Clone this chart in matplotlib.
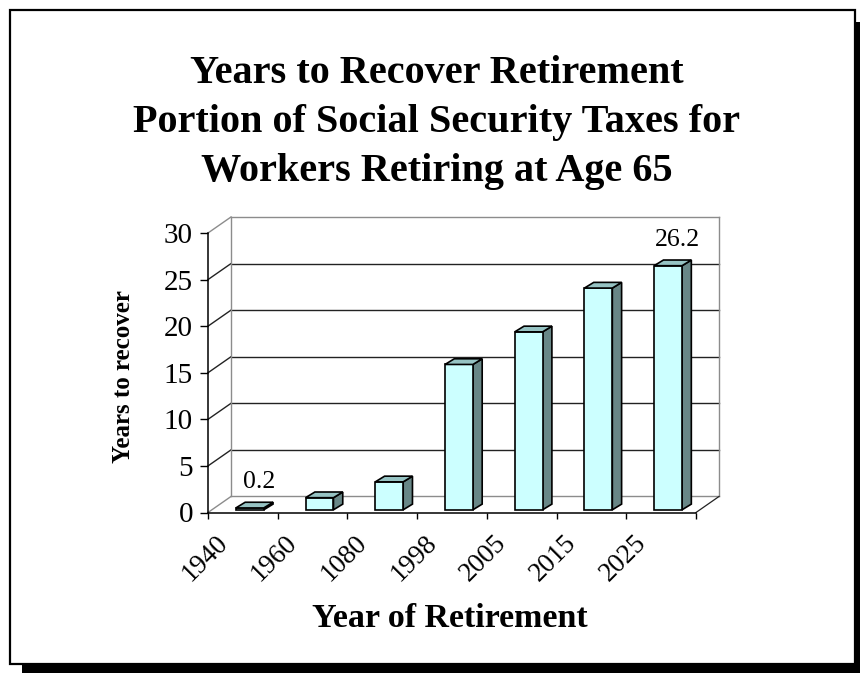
import numpy as np
import matplotlib.pyplot as plt
from matplotlib.patches import Polygon, Rectangle
from matplotlib.transforms import ScaledTranslation

# data
years = ["1940", "1960", "1080", "1998", "2005", "2015", "2025"]
recover = [0.2, 1.3, 3.0, 15.6, 19.1, 23.8, 26.2]
shown = {0: "0.2", 6: "26.2"}   # only these two bars carry a label
yticks = [0, 5, 10, 15, 20, 25, 30]

title_lines = ["Years to Recover Retirement",
               "Portion of Social Security Taxes for",
               "Workers Retiring at Age 65"]

W, H = 860, 673
serif = "Liberation Serif"
front_c, top_c, side_c = "#CCFFFF", "#96C3C3", "#688787"

fig = plt.figure(figsize=(W / 100, H / 100), dpi=100, facecolor="white")

# frame with drop shadow
fig.add_artist(Rectangle((22 / W, 0), 1, 1 - 22 / H, transform=fig.transFigure,
                         facecolor="black", edgecolor="none", zorder=-3))
fig.add_artist(Rectangle((10 / W, 1 - 664 / H), 845 / W, 654 / H, transform=fig.transFigure,
                         facecolor="white", edgecolor="black", lw=1.6, zorder=-2))

# title, one line each
for line, base in zip(title_lines, [83, 132, 181]):
    fig.text(437 / W, 1 - base / H, line, ha="center", va="baseline",
             family=serif, fontweight="bold", fontsize=29)

ax = fig.add_axes([208 / W, 1 - 512.5 / H, 488 / W, 279.5 / H])
ax.set_facecolor("none")
n = len(years)
ax.set_xlim(0, n)
ax.set_ylim(0, 30)

# oblique depth of the floor, in data units
dx, dy = 0.33, 1.72
grid_c = "#222222"
wall_c = "#8c8c8c"
for v in yticks:
    c = wall_c if v in (0, 30) else grid_c
    ax.plot([dx, n + dx], [v + dy, v + dy], color=c, lw=1.0, clip_on=False, zorder=1)
    ax.plot([0, dx], [v, v + dy], color=c, lw=1.0, clip_on=False, zorder=1)
ax.plot([dx, dx], [dy, 30 + dy], color=wall_c, lw=1.0, clip_on=False, zorder=1)
ax.plot([n + dx, n + dx], [dy, 30 + dy], color=wall_c, lw=1.0, clip_on=False, zorder=1)
ax.plot([n, n + dx], [0, dy], color=grid_c, lw=0.9, clip_on=False, zorder=1)

# 3d-looking columns
b0 = 0.29          # base of the front face
bw = 0.40          # bar front width
bdx, bdy = 0.133, 0.61
for i, v in enumerate(recover):
    x0 = i + 0.40
    x1 = x0 + bw
    top = b0 + v
    front = [(x0, b0), (x1, b0), (x1, top), (x0, top)]
    side = [(x1, b0), (x1 + bdx, b0 + bdy), (x1 + bdx, top + bdy), (x1, top)]
    lid = [(x0, top), (x1, top), (x1 + bdx, top + bdy), (x0 + bdx, top + bdy)]
    for pts, fc in [(side, side_c), (front, front_c), (lid, top_c)]:
        ax.add_patch(Polygon(pts, closed=True, facecolor=fc, edgecolor="black",
                             lw=1.2, joinstyle="miter", clip_on=False, zorder=3))
    if i in shown:
        ax.annotate(shown[i], (x0 + bw / 2 + bdx / 2 + 0.07, top + bdy),
                    xytext=(0, 10.4), textcoords="offset points",
                    ha="center", va="baseline", family=serif, fontsize=18.5, zorder=4)

# axes lines and ticks
for s in ["top", "right"]:
    ax.spines[s].set_visible(False)
for s in ["left", "bottom"]:
    ax.spines[s].set_color("black")
    ax.spines[s].set_linewidth(1.1)
    ax.spines[s].set_zorder(5)

ax.set_yticks(yticks)
ax.set_yticklabels([str(t) for t in yticks], family=serif, fontsize=21)
ax.tick_params(axis="y", direction="out", length=5.8, width=1, pad=5)

ax.set_xticks(np.arange(n + 1))
ax.set_xticklabels([])
ax.tick_params(axis="x", which="major", direction="out", length=4.3, width=1)
ax.set_xticks(np.arange(n) + 0.5, minor=True)
ax.set_xticklabels(years, minor=True, rotation=45, ha="right", va="center",
                   rotation_mode="anchor", family=serif, fontsize=19.5)
ax.tick_params(axis="x", which="minor", length=0, pad=19)
shift = ScaledTranslation(-0.19, 0, fig.dpi_scale_trans)
for lab in ax.get_xticklabels(minor=True):
    lab.set_transform(lab.get_transform() + shift)

fig.text(124 / W, 1 - 377 / H, "Years to recover", rotation=90, ha="center", va="center",
         family=serif, fontweight="bold", fontsize=18)
fig.text(450 / W, 1 - 627 / H, "Year of Retirement", ha="center", va="baseline",
         family=serif, fontweight="bold", fontsize=24.5)

fig.savefig("out.png", dpi=100, facecolor="white")
